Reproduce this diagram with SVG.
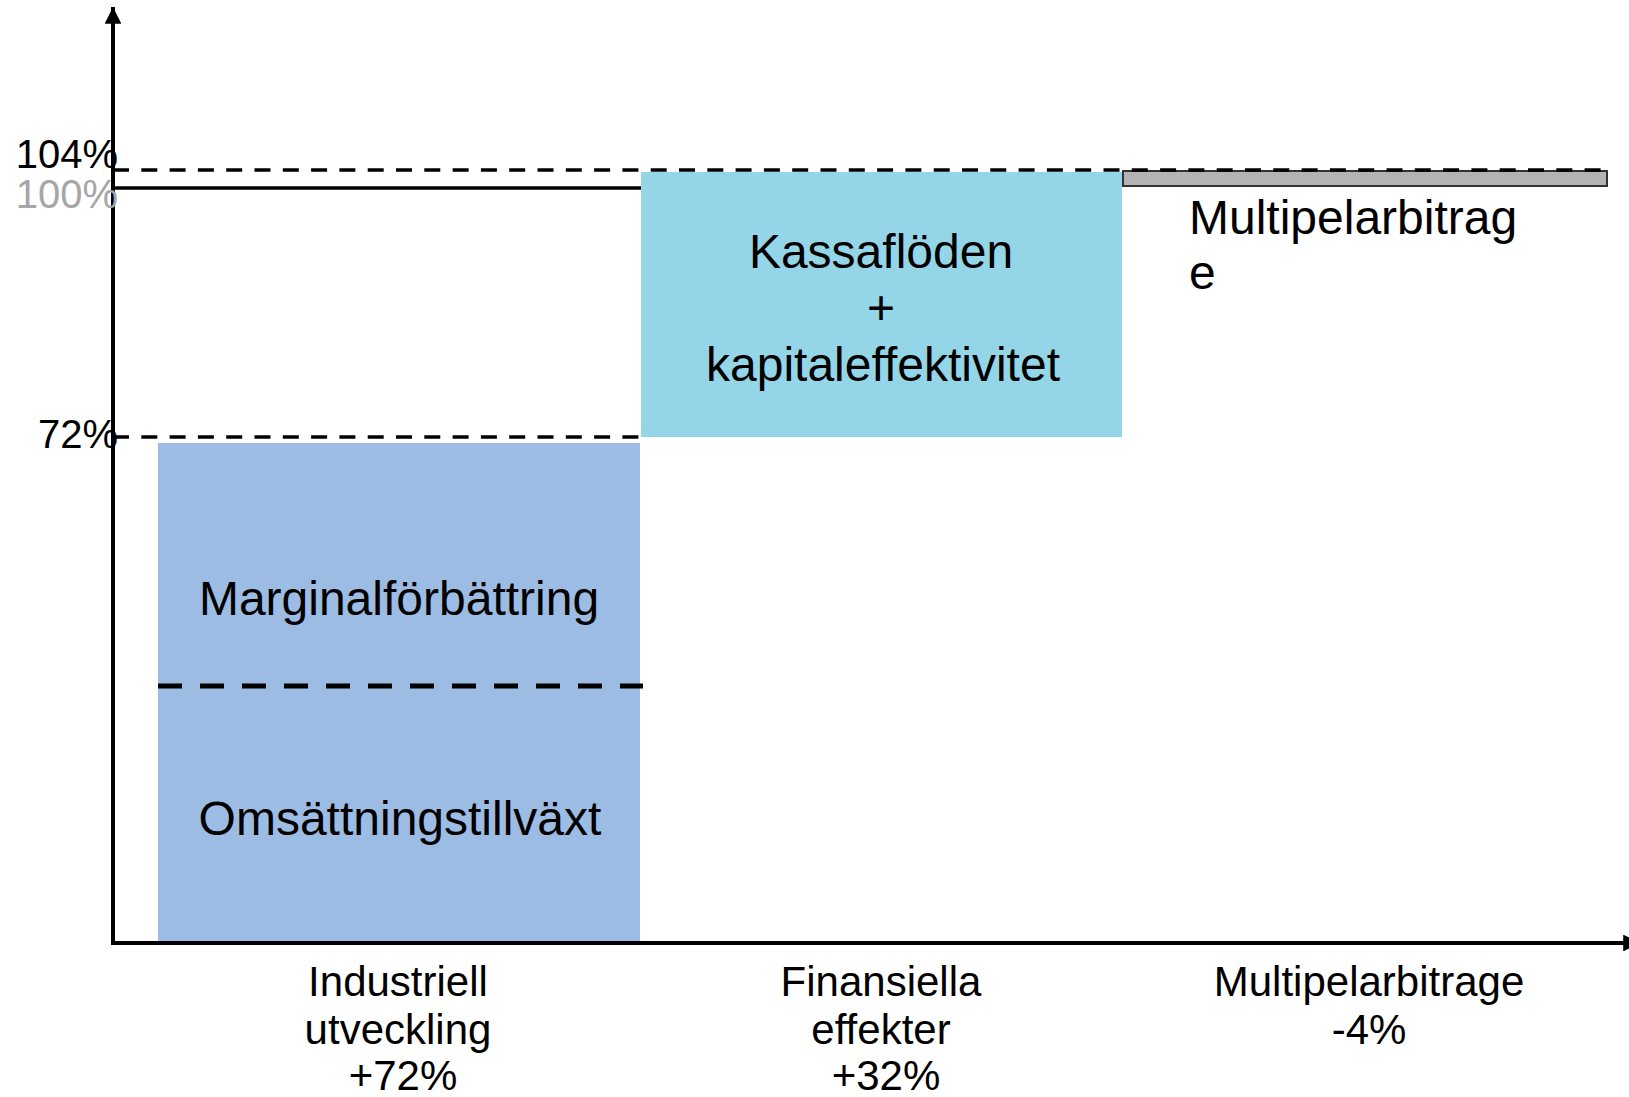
<svg xmlns="http://www.w3.org/2000/svg" width="1629" height="1097" viewBox="0 0 1629 1097">
<style>
  text { font-family: "Liberation Sans", Arial, sans-serif; fill: #000; }
  .big { font-size: 48px; }
  .lab { font-size: 42px; text-anchor: middle; }
  .tick { font-size: 40px; text-anchor: end; }
  .axis { stroke: #000; stroke-width: 4; fill: none; }
  .ref { stroke: #000; stroke-width: 3.5; fill: none; }
  .dash { stroke: #000; stroke-width: 3.5; stroke-dasharray: 16 12.3; fill: none; }
</style>
<defs>
  <marker id="arr" viewBox="0 0 10 10" refX="10" refY="5" markerWidth="4.2" markerHeight="4.2" orient="auto" markerUnits="strokeWidth">
    <path d="M0,0 L10,5 L0,10 z" fill="#000"/>
  </marker>
</defs>
<rect width="1629" height="1097" fill="#fff"/>

<g id="bar-industriell">
  <rect x="158" y="443" width="482" height="500" fill="#9dbce3"/>
  <line x1="158" y1="686" x2="643" y2="686" stroke="#000" stroke-width="5" stroke-dasharray="24 18"/>
  <text class="big" x="399" y="615" text-anchor="middle">Marginalförbättring</text>
  <text class="big" x="400" y="835" text-anchor="middle">Omsättningstillväxt</text>
</g>

<g id="bar-finansiella">
  <rect x="641" y="172" width="481" height="265" fill="#95d5e8"/>
  <text class="big" x="881" y="268" text-anchor="middle">Kassaflöden</text>
  <text class="big" x="881" y="324" text-anchor="middle">+</text>
  <text class="big" x="883" y="381" text-anchor="middle">kapitaleffektivitet</text>
</g>

<g id="bar-multipel">
  <rect x="1123" y="171" width="484" height="15" fill="#b3b3b3" stroke="#333" stroke-width="2"/>
  <text class="big" x="1189" y="234">Multipelarbitrag</text>
  <text class="big" x="1189" y="289">e</text>
</g>

<g id="connectors">
  <line class="axis" x1="113" y1="945" x2="113" y2="7" marker-end="url(#arr)"/>
  <line class="axis" x1="111" y1="943" x2="1640" y2="943" marker-end="url(#arr)"/>
  <line class="ref" x1="113" y1="188" x2="641" y2="188"/>
  <line class="dash" x1="113" y1="170" x2="1610" y2="170"/>
  <line class="dash" x1="113" y1="437" x2="641" y2="437"/>
</g>

<g id="ticks">
  <text class="tick" x="118" y="168">104%</text>
  <text class="tick" x="118" y="208" style="fill:#a6a6a6">100%</text>
  <text class="tick" x="118" y="448">72%</text>
</g>

<g id="labels">
  <text class="lab" x="398" y="996">Industriell</text>
  <text class="lab" x="398" y="1044">utveckling</text>
  <text class="lab" x="403" y="1090">+72%</text>
  <text class="lab" x="881" y="996">Finansiella</text>
  <text class="lab" x="881" y="1044">effekter</text>
  <text class="lab" x="886" y="1090">+32%</text>
  <text class="lab" x="1369" y="996">Multipelarbitrage</text>
  <text class="lab" x="1369" y="1044">-4%</text>
</g>
</svg>
